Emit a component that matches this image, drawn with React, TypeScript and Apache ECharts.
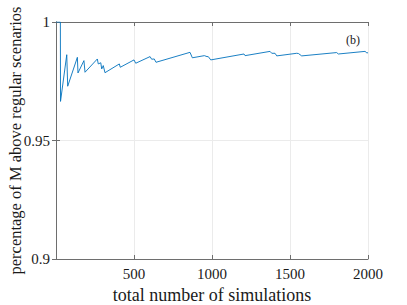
import React, { useEffect, useRef } from "react";
import * as echarts from "echarts";

const simCounts = [1, 28, 29, 69, 75, 137, 141, 179, 186, 265, 271, 287, 293, 303, 314, 406, 412, 500, 511, 603, 613, 630, 641, 859, 874, 951, 968, 976, 992, 1205, 1212, 1372, 1383, 1404, 1415, 1543, 1554, 1575, 1799, 1810, 1981, 1992, 2000];
const percentAbove = [1, 1, 0.9665, 0.9862, 0.9729, 0.9851, 0.9785, 0.9837, 0.9788, 0.9844, 0.9823, 0.9828, 0.9802, 0.9816, 0.9786, 0.9823, 0.9809, 0.984, 0.9826, 0.9854, 0.9843, 0.9844, 0.983, 0.9872, 0.9849, 0.9858, 0.9854, 0.9854, 0.984, 0.9865, 0.9858, 0.9876, 0.9868, 0.9868, 0.9857, 0.9868, 0.9867, 0.9857, 0.9871, 0.9865, 0.9876, 0.987, 0.987];
const xTickLabels = ["", "500", "1000", "1500", "2000"];
const yTickLabels = ["0.9", "0.95", "1"];

const FONT = "Liberation Serif";
const AXIS_COLOR = "#6e6e6e";
const TEXT_COLOR = "#1a1a1a";

export default function App() {
  const ref = useRef<HTMLDivElement>(null);
  useEffect(() => {
    const chart = echarts.init(ref.current!, null, { renderer: "svg" });
    const axisLine = { show: true, lineStyle: { color: AXIS_COLOR, width: 1 } };
    const axisTick = { show: true, inside: true, length: 4, lineStyle: { color: AXIS_COLOR, width: 1 } };
    chart.setOption({
      animation: false,
      backgroundColor: "#ffffff",
      grid: { left: 56, right: 39, top: 22, bottom: 46, containLabel: false, outerBoundsMode: "none" },
      xAxis: [
        {
          type: "value",
          min: 0,
          max: 2000,
          interval: 500,
          position: "bottom",
          axisLine,
          axisTick,
          axisLabel: {
            showMinLabel: false,
            color: TEXT_COLOR,
            fontFamily: FONT,
            fontSize: 15,
            margin: 7,
            formatter: (v: number) => xTickLabels[Math.round(v / 500)] ?? "",
          },
          splitLine: { show: true, lineStyle: { color: "#ebebeb", width: 1 } },
          name: "total number of simulations",
          nameLocation: "middle",
          nameGap: 26,
          nameTextStyle: { color: TEXT_COLOR, fontFamily: FONT, fontSize: 18 },
        },
        {
          type: "value",
          min: 0,
          max: 2000,
          interval: 500,
          position: "top",
          axisLine,
          axisTick,
          axisLabel: { show: false },
          splitLine: { show: false },
        },
      ],
      yAxis: [
        {
          type: "value",
          min: 0.9,
          max: 1,
          interval: 0.05,
          position: "left",
          axisLine,
          axisTick,
          axisLabel: {
            color: TEXT_COLOR,
            fontFamily: FONT,
            fontSize: 15,
            margin: 6,
            formatter: (v: number) => yTickLabels[Math.round((v - 0.9) / 0.05)] ?? "",
          },
          splitLine: { show: true, lineStyle: { color: "#ebebeb", width: 1 } },
          name: "percentage of M above regular scenarios",
          nameLocation: "middle",
          nameGap: 32,
          nameMoveOverlap: false,
          nameTextStyle: { color: TEXT_COLOR, fontFamily: FONT, fontSize: 16.5 },
        },
        {
          type: "value",
          min: 0.9,
          max: 1,
          interval: 0.05,
          position: "right",
          axisLine,
          axisTick,
          axisLabel: { show: false },
          splitLine: { show: false },
        },
      ],
      series: [
        {
          type: "line",
          xAxisIndex: 0,
          yAxisIndex: 0,
          data: simCounts.map((x, i) => [x, percentAbove[i]]),
          showSymbol: false,
          symbol: "none",
          clip: true,
          lineStyle: { color: "#0072BD", width: 0.9 },
        },
      ],
      graphic: [
        {
          type: "text",
          left: 346,
          top: 34,
          style: { text: "(b)", font: `12px ${FONT}`, fill: TEXT_COLOR },
        },
      ],
    });
    return () => chart.dispose();
  }, []);
  return <div ref={ref} style={{ position: "fixed", left: 0, top: 0, width: 407, height: 305 }} />;
}
